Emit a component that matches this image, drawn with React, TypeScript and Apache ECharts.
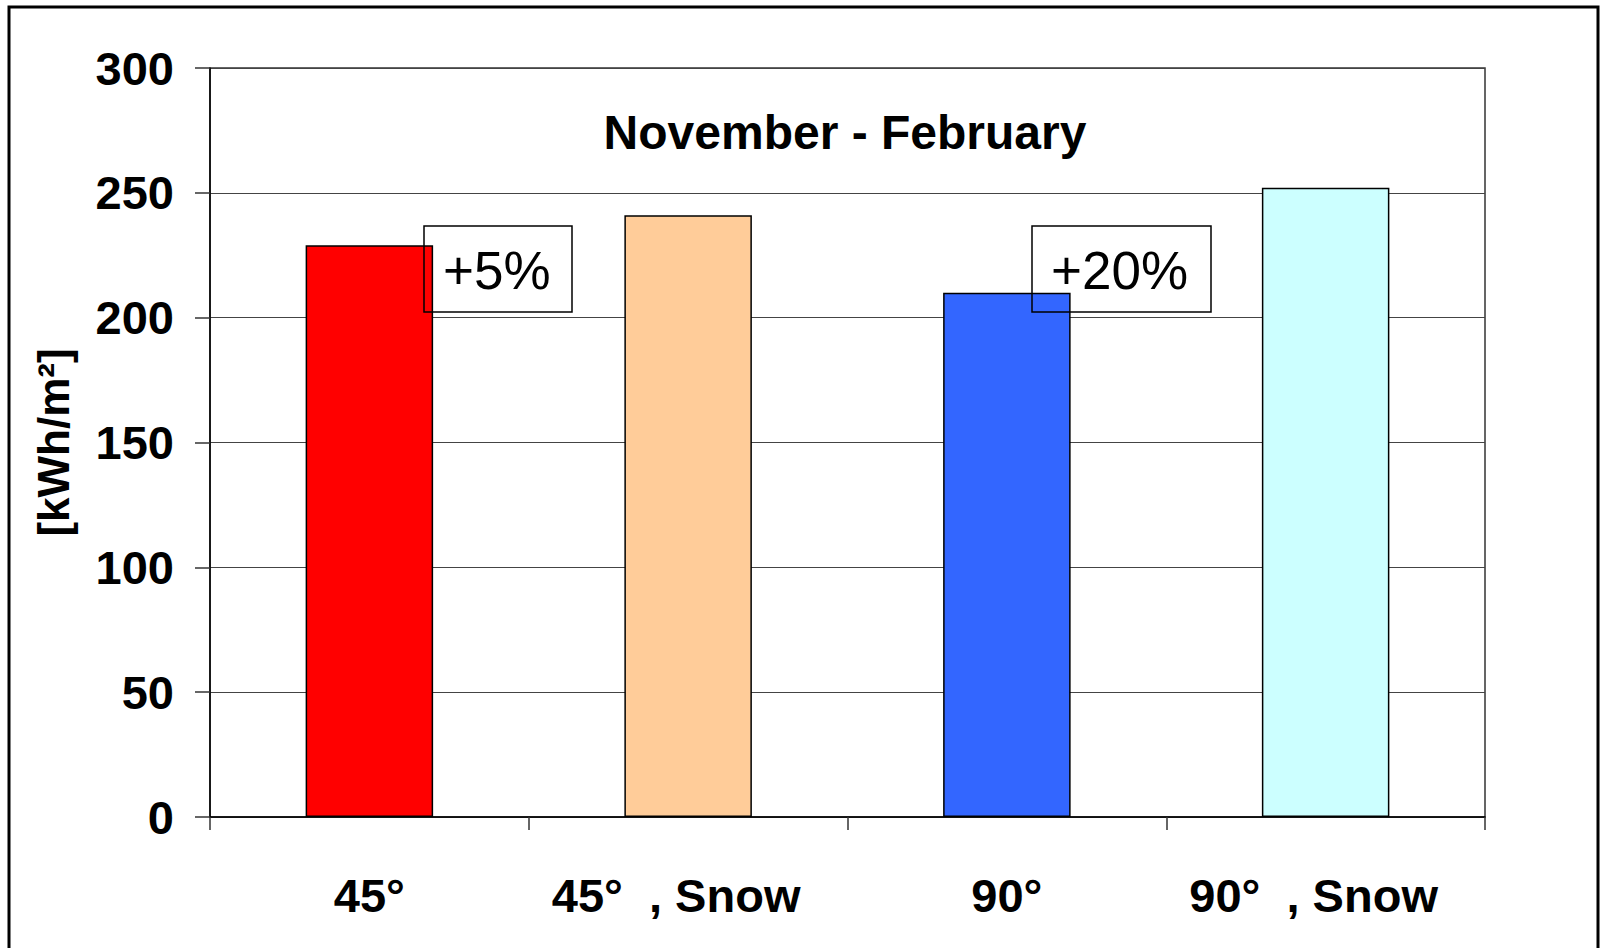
import React, { useEffect, useRef } from "react";
import * as echarts from "echarts";

// Irradiation on tilted surfaces, November - February
const categories = ["45°", "45°  , Snow", "90°", "90°  , Snow"];
const irradiation = [229, 241, 210, 252];
const barColors = ["#FF0000", "#FFCC99", "#3366FF", "#CCFFFF"];

const yMin = 0;
const yMax = 300;
const yStep = 50;

// Gain from snow reflection: [without snow, with snow] category indices
const gainPairs: [number, number][] = [
  [0, 1],
  [2, 3],
];

const FONT = "'Liberation Sans', Arial, Helvetica, sans-serif";

export default function App() {
  const ref = useRef<HTMLDivElement>(null);

  useEffect(() => {
    document.body.style.margin = "0";
    if (!ref.current) return;
    const chart = echarts.init(ref.current, null, { renderer: "svg" });

    const gainTexts = gainPairs.map(
      ([a, b]) => `+${Math.round((irradiation[b] / irradiation[a] - 1) * 100)}%`
    );
    const boxes = [
      { x: 424, y: 226, w: 148, h: 86 },
      { x: 1032, y: 226, w: 179, h: 86 },
    ];

    const labelStyle = { fontSize: 47, fontWeight: "bold" as const, fontFamily: FONT, color: "#000" };

    chart.setOption({
      animation: false,
      backgroundColor: "#fff",
      title: {
        text: "November - February",
        left: 845,
        top: 108,
        padding: 0,
        textAlign: "center",
        textStyle: { fontSize: 48, fontWeight: "bold", fontFamily: FONT, color: "#000" },
      },
      grid: {
        left: 210,
        right: 117,
        top: 68,
        bottom: 131,
        show: true,
        borderColor: "#333",
        borderWidth: 1.5,
        backgroundColor: "transparent",
      },
      xAxis: {
        type: "category",
        data: categories,
        axisLine: { show: true, lineStyle: { color: "#000", width: 1.5 } },
        axisTick: { show: true, length: 13, lineStyle: { color: "#333", width: 1.5 } },
        axisLabel: {
          interval: 0,
          margin: 55,
          formatter: (v: string) => (v.includes("Snow") ? `{s|${v}}` : `{n|${v}}`),
          rich: {
            n: { ...labelStyle },
            s: { ...labelStyle, padding: [0, 24, 0, 0] },
          },
        },
      },
      yAxis: {
        type: "value",
        min: yMin,
        max: yMax,
        interval: yStep,
        name: "[kWh/m²]",
        nameLocation: "middle",
        nameRotate: 90,
        nameGap: 135,
        nameTextStyle: { fontSize: 44, fontWeight: "bold", fontFamily: FONT, color: "#000" },
        axisLine: { show: true, lineStyle: { color: "#000", width: 1.5 } },
        axisTick: { show: true, length: 15, lineStyle: { color: "#333", width: 1.5 } },
        axisLabel: { ...labelStyle, margin: 36, padding: [9, 0, 0, 0] },
        splitLine: { show: true, lineStyle: { color: "#444", width: 1 } },
      },
      series: [
        {
          type: "bar",
          barWidth: "40%",
          data: irradiation.map((v, i) => ({
            value: v,
            itemStyle: { color: barColors[i], borderColor: "#000", borderWidth: 1.5 },
          })),
        },
      ],
      graphic: [
        {
          type: "rect",
          silent: true,
          z: 0,
          shape: { x: 9, y: 7, width: 1589, height: 980 },
          style: { fill: "none", stroke: "#000", lineWidth: 3 },
        },
        ...boxes.flatMap((b, i) => [
          {
            type: "rect",
            z: 10,
            shape: { x: b.x, y: b.y, width: b.w, height: b.h },
            style: { fill: "none", stroke: "#000", lineWidth: 1.5 },
          },
          {
            type: "text",
            z: 11,
            x: b.x + 19,
            y: b.y + b.h / 2 + 1,
            style: {
              text: gainTexts[i],
              fill: "#000",
              fontSize: 53,
              fontFamily: FONT,
              textAlign: "left",
              textVerticalAlign: "middle",
            },
          },
        ]),
      ],
    });

    return () => chart.dispose();
  }, []);

  return <div ref={ref} style={{ width: 1602, height: 948 }} />;
}
